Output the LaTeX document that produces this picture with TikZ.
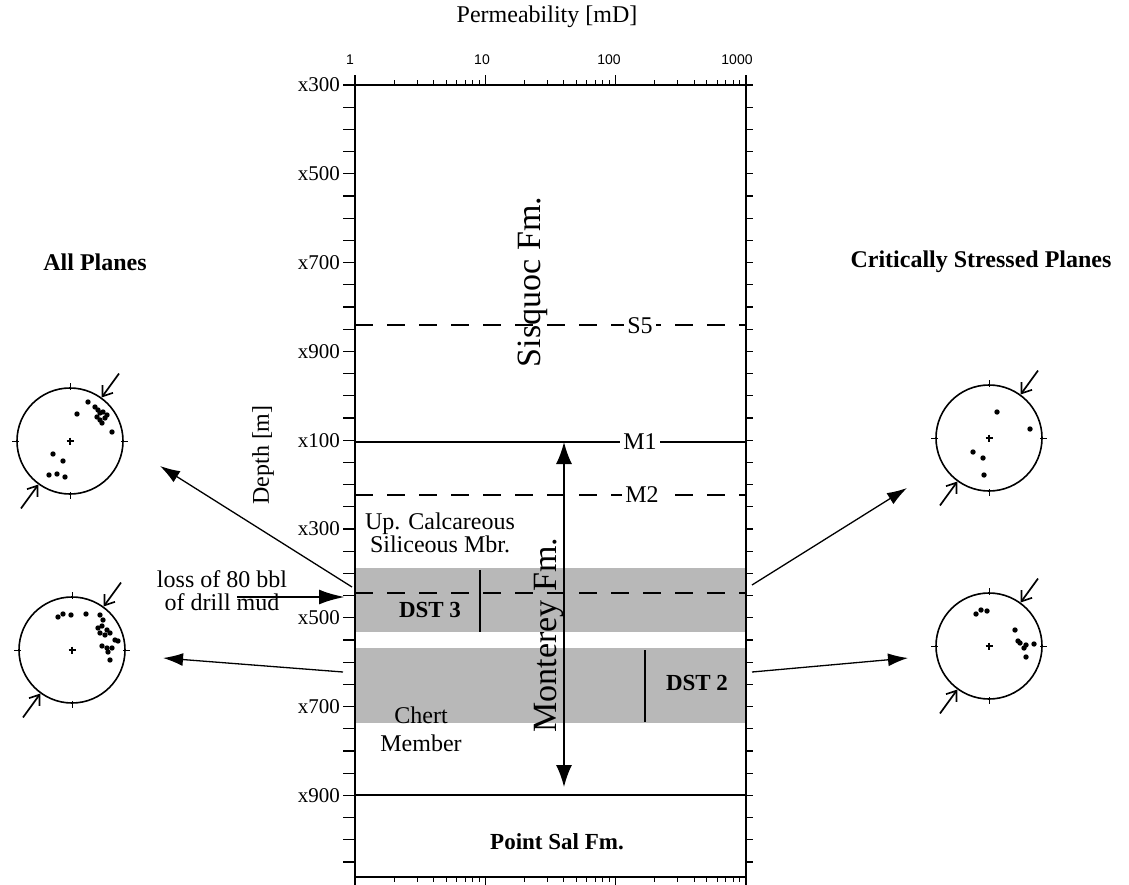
\documentclass[tikz,border=0pt]{standalone}
\usepackage{fontspec}
\setmainfont{Liberation Serif}
\newfontfamily\axisfont{Liberation Sans}
\usetikzlibrary{arrows.meta}
\usetikzlibrary{calc}

\tikzset{
  frame/.style={line width=1.6pt},
  band/.style={fill=black!28},
  horizon/.style={line width=1.3pt},
  dashline/.style={line width=1.3pt, dash pattern=on 18pt off 14pt},
  boldlab/.style={font=\fontsize{23}{26}\selectfont\bfseries},
  axisnum/.style={font=\fontsize{14}{16}\selectfont\axisfont},
  net/.style={circle, draw, line width=1.6pt, minimum size=106pt, inner sep=0pt},
  stress/.style={line width=1.7pt, -{Straight Barb[length=9pt,width=13pt,line width=1.7pt]}},
  flow/.style={line width=1.3pt, -{Latex[length=20pt,width=13pt]}},
  twoway/.style={line width=1.6pt, {Latex[length=22pt,width=16pt]}-{Latex[length=22pt,width=16pt]}},
  dstline/.style={line width=2.8pt}
}

% stereonet: name, x, y, list of poles (dx/dy)
\newcommand{\drawNet}[4]{
   	\node[net] (#1) at (#2,#3) {};
   	\foreach \a in {0,90,180,270}
   		\draw[line width=1pt] ($(#1.center)!1.07!(#1.\a)$) -- ($(#1.center)!0.94!(#1.\a)$);
   	\draw[line width=1.2pt] ($(#1.center)+(-3.5,0)$) -- ++(7,0) ($(#1.center)+(0,-3.5)$) -- ++(0,7);
   	\draw[stress] ($(#1.center)!1.55!(#1.54)$) -- (#1.54);
   	\draw[stress] ($(#1.center)!1.55!(#1.234)$) -- (#1.234);
   	\foreach \dx/\dy in {#4}
   		\fill ($(#1.center)+(\dx,\dy)$) circle (2.7);
}

\begin{document}
\begin{tikzpicture}[x=1pt,y=-1pt, font=\fontsize{24}{23}\selectfont]
%%%%%%%%%%%%%%%%%%
\useasboundingbox (0,0) rectangle (1129,885);

%DST intervals
	\fill[band] (355,568) rectangle (746,632);
	\fill[band] (355,648) rectangle (746,723);

%Frame and axes
	\draw[frame] (355,85) rectangle (746,877);
	\foreach \d in {0,1,2,3}
	{
		\draw[frame] (355+130.3*\d,85) -- ++(0,-10);
		\draw[frame] (355+130.3*\d,877) -- ++(0,8);
	}
	\foreach \d in {0,1,2}
		\foreach \m in {2,...,9}
		{
			\draw[line width=1pt] ({355+130.3*(\d+log10(\m))},85) -- ++(0,-5);
			\draw[line width=1pt] ({355+130.3*(\d+log10(\m))},877) -- ++(0,5);
		}
	\foreach \k in {0,...,35}
	{
		\draw[line width=1.2pt] (343,85+22.2*\k) -- (355,85+22.2*\k);
		\draw[line width=1.2pt] (746,85+22.2*\k) -- (753,85+22.2*\k);
	}

%Axis labels
	\node (permtitle) at (547,17) {Permeability [mD]};
	\node[axisnum] (p1) at (350,60) {1};
	\node[axisnum] (p10) at (482,60) {10};
	\node[axisnum] (p100) at (609,60) {100};
	\node[axisnum] (p1000) at (737,60) {1000};
	\foreach \lab [count=\k from 0] in {x300,x500,x700,x900,x100,x300,x500,x700,x900}
		\node[left, inner sep=1pt, font=\fontsize{21}{24}\selectfont] (d\k) at (341,85+88.8*\k) {\lab};
	\node[rotate=90] (depth) at (263,455) {Depth [m]};

%Horizons
	\draw[dashline] (355,325) -- (746,325);
	\node[fill=white, inner sep=3pt] (s5) at (640,326) {S5};
	\draw[horizon] (355,442) -- (746,442);
	\node[fill=white, inner sep=3pt] (m1) at (640,442) {M1};
	\draw[dashline] (355,495) -- (746,495);
	\node[fill=white, inner sep=3pt] (m2) at (642,495) {M2};
	\draw[dashline] (355,593) -- (746,593);
	\draw[horizon] (355,795) -- (746,795);

%Formations
	\node[rotate=90, font=\fontsize{34}{40}\selectfont] (sisquoc) at (533,282) {Sisquoc Fm.};
	\node[rotate=90, font=\fontsize{34}{40}\selectfont] (monterey) at (549,635) {Monterey Fm.};
	\node[boldlab] (pointsal) at (557,842) {Point Sal Fm.};
	\node[align=center] (upcalc) at (440,533) {Up. Calcareous\\Siliceous Mbr.};
	\node[align=center, font=\fontsize{24}{28}\selectfont] (chert) at (421,729) {Chert\\Member};
	\coordinate (mtop) at (564,442);
	\coordinate (mbot) at (564,787);
	\draw[twoway] (mtop) -- (mbot);

%Drill stem tests
	\node[boldlab] (dst3) at (430,610) {DST 3};
	\draw[dstline] (480,570) -- (480,632);
	\node[boldlab] (dst2) at (697,683) {DST 2};
	\draw[dstline] (645,650) -- (645,722);

%Mud loss
	\node[align=center] (loss) at (222,591) {loss of 80 bbl\\of drill mud};
	\coordinate (lossstart) at (237,597);
	\coordinate (lossend) at (345,597);
	\draw[line width=2.6pt, -{Latex[length=26pt,width=15pt]}] (lossstart) -- (lossend);

%Stereonets
	\node[font=\fontsize{24}{28}\selectfont\bfseries] (allplanes) at (95,262) {All Planes};
	\node[font=\fontsize{24}{28}\selectfont\bfseries] (critplanes) at (981,262) {Critically Stressed Planes};
	\drawNet{allup}{70}{441}{18/-39,7/-27,25/-34,28/-31,30/-28,33/-29,37/-26,27/-24,30/-21,32/-18,35/-23,42/-9,-17/13,-7/20,-21/34,-13/33,-5/36}
	\drawNet{alllow}{72}{650}{-14/-33,-9/-36,-1/-35,14/-36,28/-35,26/-22,30/-24,31/-30,35/-20,38/-17,28/-17,33/-15,43/-10,46/-9,30/-4,35/-2,40/-2,36/2,38/10}
	\drawNet{critup}{989}{438}{8/-26,41/-9,-16/14,-6/20,-5/37}
	\drawNet{critlow}{989}{646}{-13/-32,-8/-36,-2/-35,26/-16,29/-5,31/-3,37/-1,35/2,45/-2,37/11}

% Connect intervals with stereonets
	\coordinate (upL) at (352,587);
	\coordinate (tipUL) at (160,466);
	\coordinate (lowL) at (343,672);
	\coordinate (tipLL) at (163,658);
	\coordinate (upR) at (752,585);
	\coordinate (tipUR) at (907,488);
	\coordinate (lowR) at (752,672);
	\coordinate (tipLR) at (908,658);
	\draw[flow] (upL) -- (tipUL);
	\draw[flow] (lowL) -- (tipLL);
	\draw[flow] (upR) -- (tipUR);
	\draw[flow] (lowR) -- (tipLR);

\end{tikzpicture}
\end{document}
